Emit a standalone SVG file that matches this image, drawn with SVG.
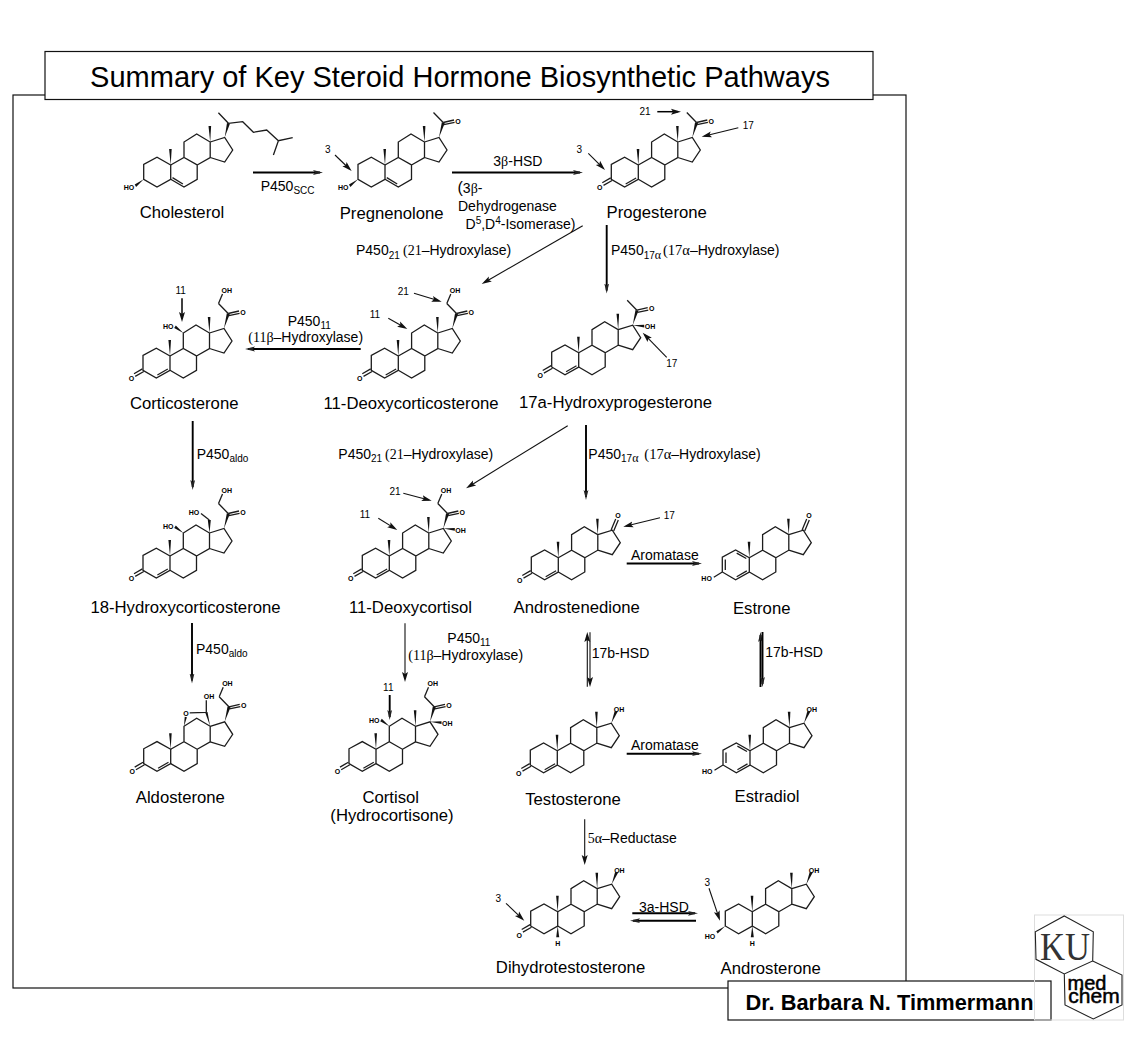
<svg xmlns="http://www.w3.org/2000/svg" xmlns:xlink="http://www.w3.org/1999/xlink" width="1148" height="1044" viewBox="0 0 1148 1044">
<style>
text{font-family:"Liberation Sans",Arial,sans-serif;fill:#000}
.b{fill:none;stroke:#1c1c1c;stroke-width:1.3}
.w{fill:#111;stroke:none}
.at{font-size:7px;font-weight:700;text-anchor:middle;dominant-baseline:central}
.nm{font-size:16.7px;text-anchor:middle;transform:translateY(.8px)}
.lb{font-size:14px;transform:translateY(.7px)}
.num{font-size:10px;text-anchor:middle;dominant-baseline:central}
.g{font-family:"Liberation Serif","Times New Roman",serif}
.s{font-size:10px}
.frame{fill:#fff;stroke:#111;stroke-width:1.2}
.c3{fill:none;stroke:#000;stroke-width:1.9;marker-end:url(#ahk)}
.c2{fill:none;stroke:#000;stroke-width:1.5;marker-end:url(#ah)}
.c1{fill:none;stroke:#111;stroke-width:1.1;marker-end:url(#ah)}
</style>
<defs>
<marker id="ah" markerUnits="userSpaceOnUse" markerWidth="12" markerHeight="8" viewBox="0 -4 12 8" refX="7" refY="0" orient="auto"><path d="M0,-3L10,0L0,3L2,0Z" fill="#111"/></marker>
<marker id="ahk" markerUnits="userSpaceOnUse" markerWidth="12" markerHeight="8" viewBox="0 -4 12 8" refX="7" refY="0" orient="auto"><path d="M0,-2.4L10,0L0,2.4L2,0Z" fill="#222"/></marker>
<g id="core"><path class="b" d="M0,0L13.3,-7.5L26.5,0V14.3L13.3,22L0,14.3M13.3,-7.5V-23L26,-31L39.5,-23V-7.5L26.5,0M39.5,-23L54,-27.5L62,-15L54,-3L39.5,-7.5"/><polygon class="w" points="0,0 -1.6,-16 1,-16"/></g>
<polygon id="me18" class="w" points="39.5,-23 37.8,-39 40.4,-39"/>
<path id="ringA" class="b" d="M0,0L-13.7,-7.7L-27,-.5V14.3L-13.7,22L0,14.3Z"/>
<path id="d45" class="b" d="M-12.6,19L-2.2,13"/>
<path id="d56" class="b" d="M1.8,12.6L12.2,19"/>
<path id="co3" class="b" d="M-27.6,12.9L-36,17.8M-26.2,15.5L-34.8,20.4"/>
<polygon id="oh3b" class="w" points="-27,14.3 -36,19.5 -34.6,21.9"/>
<polygon id="oh11b" class="w" points="13.3,-23 5.8,-30.5 4.2,-28"/>
<polygon id="oh17a" class="w" points="54,-27.5 65.5,-28 65.5,-25.2"/>
<polygon id="oh17b" class="w" points="54,-27.5 57.4,-39.8 60.2,-38.8"/>
<g id="acetyl"><polygon class="w" points="54,-27.5 56.8,-42.8 59.8,-42"/><path class="b" d="M48.5,-52.5L58.2,-42.5M58.2,-42.5L69,-45M58.8,-40.4L69.6,-42.6"/></g>
<path id="ohbond" class="b" d="M48.5,-52.5L52.5,-62"/>
<path id="keto17" class="b" d="M52.8,-27.8L57.4,-38.8M55.4,-26.8L60,-37.8"/>
<g id="arom"><path class="b" d="M0,0L-13.7,-7.7L-27,-.5V14.3L-13.7,22L0,14.3ZM-12.6,-4.6L-3,.8M-24,1.8V12.2M-12.6,19L-2.5,13.2M-27,14.3L-35.5,19.5"/></g>
<g id="hc5"><polygon class="w" points="0,14.3 -1.5,25.5 1.5,25.5"/></g>
</defs>

<g id="frames">
<rect class="frame" x="13" y="95" width="893" height="893" style="fill:none"/>
<rect class="frame" x="45" y="51.500" width="828" height="48"/>
<text x="460" y="87" font-size="29" text-anchor="middle">Summary of Key Steroid Hormone Biosynthetic Pathways</text>
<rect class="frame" x="728" y="981" width="323" height="39"/>
<text x="889.500" y="1010" font-size="21.800" font-weight="700" text-anchor="middle">Dr. Barbara N. Timmermann</text>
</g>

<g id="logo">
<rect x="1034.500" y="915" width="89" height="105" fill="none" stroke="#ddd" stroke-width="1"/>
<path d="M1064.300,916L1093.300,931.700L1092.700,961L1064.300,974L1036,959.300L1035.300,931.700ZM1092.700,961L1122,975L1122,1005L1093.300,1019L1065,1005L1064.300,974" fill="none" stroke="#222" stroke-width="1.100"/>
<text x="1040" y="960" font-size="40" textLength="50" lengthAdjust="spacingAndGlyphs" style="font-family:'Liberation Serif',serif;fill:#333">KU</text>
<text x="1087" y="990" font-size="20" text-anchor="middle" stroke="#000" stroke-width=".5">med</text>
<text x="1094" y="1003" font-size="21" text-anchor="middle" stroke="#000" stroke-width=".5">chem</text>
</g>

<g id="connectors">
<path class="c3" d="M253,172.500H320"/>
<path class="c3" d="M452,172.500H580"/>
<path class="c1" d="M582.700,225.700L484.300,282.500"/>
<path class="c3" d="M606.700,225V290.500"/>
<path class="c3" d="M360.700,349H248"/>
<path class="c1" d="M567.700,425.700L468.600,486.700"/>
<path class="c3" d="M586,425V497"/>
<path class="c3" d="M192.700,421V487"/>
<path class="c3" d="M192,623V680.500"/>
<path class="c1" d="M405,623.300V679"/>
<path class="c3" d="M626.700,563.500H699"/>
<path class="c1" d="M587.300,686.700V635"/>
<path class="c1" d="M590,632.300V684"/>
<path class="c3" d="M760.500,687V635"/>
<path class="c3" d="M762.500,632V684"/>
<path class="c3" d="M626.700,753.700H699"/>
<path class="c1" d="M584.700,819.300V862"/>
<path class="c3" d="M632.300,913.300H695"/>
<path class="c3" d="M696,920.700H633"/>
<path class="c1" d="M335,155L349.500,169"/>
<path class="c2" d="M657.300,111.700H678"/>
<path class="c1" d="M738.300,127.700L704.600,136"/>
<path class="c1" d="M588.300,153.300L602.900,167.900"/>
<path class="c1" d="M414,293.300L438.800,300.800"/>
<path class="c1" d="M388.300,318.300L404.700,327.500"/>
<path class="c2" d="M182,298.300V319"/>
<path class="c1" d="M666.700,357.300L644.800,334.900"/>
<path class="c1" d="M403.300,493.300L428.800,500"/>
<path class="c1" d="M378.300,518.300L394.700,528.400"/>
<path class="c1" d="M660,517.700L626.200,526"/>
<path class="c3" d="M389.700,695V717"/>
<path class="c1" d="M506,903.300L522.100,918.600"/>
<path class="c1" d="M709,888.300L719,917.900"/>
</g>

<g id="labels">
<text class="lb" x="260.700" y="190">P450<tspan class="s" dy="3.500">SCC</tspan></text>
<text class="lb" x="493.300" y="165">3<tspan class="g">β</tspan>-HSD</text>
<text class="lb" x="457.500" y="192"><tspan font-size="16">(</tspan>3<tspan class="g">β</tspan>-</text>
<text class="lb" x="458" y="210">Dehydrogenase</text>
<text class="lb" x="465.500" y="228">D<tspan class="s" dy="-5">5</tspan><tspan dy="5">,D</tspan><tspan class="s" dy="-5">4</tspan><tspan dy="5">-Isomerase)</tspan></text>
<text class="lb" x="356" y="254.500">P450<tspan class="s" dy="3.500">21</tspan><tspan class="g" x="403" dy="-3.500">(21</tspan>–Hydroxylase)</text>
<text class="lb" x="611" y="254.500">P450<tspan class="s" dy="3.500">17<tspan class="g" font-size="12">α</tspan></tspan><tspan class="g" font-size="14.500" x="663" dy="-3.500">(17α</tspan>–Hydroxylase)</text>
<text class="lb" x="287.700" y="325">P450<tspan class="s" dy="3.500">11</tspan></text>
<text class="lb" x="248.300" y="341"><tspan class="g">(11β</tspan>–Hydroxylase)</text>
<text class="lb" x="196.700" y="458.300">P450<tspan class="s" dy="3.500">aldo</tspan></text>
<text class="lb" x="338.300" y="458.300">P450<tspan class="s" dy="3.500">21</tspan><tspan class="g" x="385" dy="-3.500">(21</tspan>–Hydroxylase)</text>
<text class="lb" x="588.300" y="458.300">P450<tspan class="s" dy="3.500">17<tspan class="g" font-size="12">α</tspan></tspan><tspan class="g" font-size="14.500" x="644.300" dy="-3.500">(17α</tspan>–Hydroxylase)</text>
<text class="lb" x="196" y="653">P450<tspan class="s" dy="3.500">aldo</tspan></text>
<text class="lb" x="447.300" y="642.300">P450<tspan class="s" dy="3.500">11</tspan></text>
<text class="lb" x="408.300" y="659"><tspan class="g">(11β</tspan>–Hydroxylase)</text>
<text class="lb" x="631" y="559.300">Aromatase</text>
<text class="lb" x="631" y="749.300">Aromatase</text>
<text class="lb" x="591.700" y="657.700">17b-HSD</text>
<text class="lb" x="765.300" y="656.700">17b-HSD</text>
<text class="lb" x="587.700" y="842.300"><tspan class="g">5α</tspan>–Reductase</text>
<text class="lb" x="639" y="911.700">3a-HSD</text>
<text class="num" x="327.700" y="149.300">3</text>
<text class="num" x="645" y="111.700">21</text>
<text class="num" x="748.300" y="125.700">17</text>
<text class="num" x="579.300" y="149.300">3</text>
<text class="num" x="403.300" y="291.700">21</text>
<text class="num" x="375" y="314.300">11</text>
<text class="num" x="180.700" y="290.700">11</text>
<text class="num" x="671.700" y="363.300">17</text>
<text class="num" x="395" y="491.700">21</text>
<text class="num" x="365" y="514.300">11</text>
<text class="num" x="669.300" y="515">17</text>
<text class="num" x="388.300" y="687.300">11</text>
<text class="num" x="498.300" y="898.300">3</text>
<text class="num" x="707.300" y="882.300">3</text>
</g>

<g id="cholesterol"><g transform="translate(170.700,165)">
<use href="#core"/><use href="#me18"/><use href="#ringA"/><use href="#d56"/><use href="#oh3b"/>
<polygon class="w" points="54,-27.500 56.300,-42 59.200,-41.300"/>
<path class="b" d="M47.700,-52.300L57.700,-41.700L72,-43.300L82.700,-32.700L96,-35L107.700,-24.300L122,-27.300M107.700,-24.300L102.700,-10"/>
<text class="at" x="-41.700" y="22.700">HO</text>
</g><text class="nm" x="182" y="217.300">Cholesterol</text></g>

<g id="pregnenolone"><g transform="translate(385,165)">
<use href="#core"/><use href="#me18"/><use href="#ringA"/><use href="#d56"/><use href="#oh3b"/><use href="#acetyl"/>
<text class="at" x="-41.700" y="22.700">HO</text><text class="at" x="73" y="-44">O</text>
</g><text class="nm" x="391.700" y="218">Pregnenolone</text></g>

<g id="progesterone"><g transform="translate(638.300,165)">
<use href="#core"/><use href="#me18"/><use href="#ringA"/><use href="#d45"/><use href="#co3"/><use href="#acetyl"/>
<text class="at" x="-38.500" y="22.500">O</text><text class="at" x="73" y="-44">O</text>
</g><text class="nm" x="656.700" y="217.300">Progesterone</text></g>

<g id="deoxycorticosterone"><g transform="translate(398.300,356)">
<use href="#core"/><use href="#me18"/><use href="#ringA"/><use href="#d45"/><use href="#co3"/><use href="#acetyl"/><use href="#ohbond"/>
<text class="at" x="-38.500" y="22.500">O</text><text class="at" x="73" y="-44">O</text><text class="at" x="56.700" y="-66">OH</text>
</g><text class="nm" x="411" y="408.300">11-Deoxycorticosterone</text></g>

<g id="corticosterone"><g transform="translate(170,356)">
<use href="#core"/><use href="#me18"/><use href="#ringA"/><use href="#d45"/><use href="#co3"/><use href="#acetyl"/><use href="#ohbond"/><use href="#oh11b"/>
<text class="at" x="-38.500" y="22.500">O</text><text class="at" x="73" y="-44">O</text><text class="at" x="56.700" y="-66">OH</text><text class="at" x="-1.700" y="-29.300">HO</text>
</g><text class="nm" x="184.200" y="408.300">Corticosterone</text></g>

<g id="hydroxyprogesterone"><g transform="translate(578.700,352.700)">
<use href="#core"/><use href="#me18"/><use href="#ringA"/><use href="#d45"/><use href="#co3"/><use href="#acetyl"/><use href="#oh17a"/>
<text class="at" x="-38.500" y="22.500">O</text><text class="at" x="73" y="-44">O</text><text class="at" x="71.300" y="-26">OH</text>
</g><text class="nm" x="615.500" y="407.300">17a-Hydroxyprogesterone</text></g>

<g id="hydroxycorticosterone"><g transform="translate(170,556)">
<use href="#core"/><use href="#ringA"/><use href="#d45"/><use href="#co3"/><use href="#acetyl"/><use href="#ohbond"/><use href="#oh11b"/>
<polygon class="w" points="39.500,-23 37.800,-36 40.800,-36"/><path class="b" d="M39.300,-36L31,-42.500"/>
<text class="at" x="-38.500" y="22.500">O</text><text class="at" x="73" y="-44">O</text><text class="at" x="56.700" y="-66">OH</text><text class="at" x="-1.700" y="-29.300">HO</text><text class="at" x="24" y="-43.300">HO</text>
</g><text class="nm" x="185.500" y="612.300">18-Hydroxycorticosterone</text></g>

<g id="deoxycortisol"><g transform="translate(389.300,556)">
<use href="#core"/><use href="#me18"/><use href="#ringA"/><use href="#d45"/><use href="#co3"/><use href="#acetyl"/><use href="#ohbond"/><use href="#oh17a"/>
<text class="at" x="-38.500" y="22.500">O</text><text class="at" x="73" y="-44">O</text><text class="at" x="56.700" y="-66">OH</text><text class="at" x="71.300" y="-26">OH</text>
</g><text class="nm" x="410.500" y="612.300">11-Deoxycortisol</text></g>

<g id="androstenedione"><g transform="translate(558.300,557.700)">
<use href="#core"/><use href="#me18"/><use href="#ringA"/><use href="#d45"/><use href="#co3"/><use href="#keto17"/>
<text class="at" x="-38.500" y="22.500">O</text><text class="at" x="59.800" y="-42">O</text>
</g><text class="nm" x="576.700" y="612.200">Androstenedione</text></g>

<g id="estrone"><g transform="translate(749.300,557.700)">
<use href="#core"/><use href="#me18"/><use href="#arom"/><use href="#keto17"/>
<text class="at" x="-42.700" y="21.300">HO</text><text class="at" x="59.800" y="-42">O</text>
</g><text class="nm" x="761.700" y="613.200">Estrone</text></g>

<g id="aldosterone"><g transform="translate(170.700,749.300)">
<use href="#core"/><use href="#ringA"/><use href="#d45"/><use href="#co3"/><use href="#acetyl"/><use href="#ohbond"/>
<polygon class="w" points="39.500,-23 34.400,-37 36.800,-37.300"/><polygon class="w" points="13.300,-23 14,-32.500 16.200,-32"/>
<path class="b" d="M19,-36.500L35.300,-37M35.600,-37V-49"/>
<text class="at" x="15.300" y="-36">O</text><text class="at" x="38.300" y="-53.300">OH</text><text class="at" x="-38.500" y="22.500">O</text><text class="at" x="73" y="-44">O</text><text class="at" x="56.700" y="-66">OH</text>
</g><text class="nm" x="180.300" y="802.300">Aldosterone</text></g>

<g id="cortisol"><g transform="translate(376,749.300)">
<use href="#core"/><use href="#me18"/><use href="#ringA"/><use href="#d45"/><use href="#co3"/><use href="#acetyl"/><use href="#ohbond"/><use href="#oh11b"/><use href="#oh17a"/>
<text class="at" x="-38.500" y="22.500">O</text><text class="at" x="73" y="-44">O</text><text class="at" x="56.700" y="-66">OH</text><text class="at" x="-1.700" y="-29.300">HO</text><text class="at" x="71.300" y="-26">OH</text>
</g><text class="nm" x="390.700" y="802.300">Cortisol</text><text class="nm" x="392" y="820">(Hydrocortisone)</text></g>

<g id="testosterone"><g transform="translate(557.300,750.700)">
<use href="#core"/><use href="#me18"/><use href="#ringA"/><use href="#d45"/><use href="#co3"/><use href="#oh17b"/>
<text class="at" x="-38.500" y="22.500">O</text><text class="at" x="61.700" y="-41.700">OH</text>
</g><text class="nm" x="573" y="804.300">Testosterone</text></g>

<g id="estradiol"><g transform="translate(750,750.700)">
<use href="#core"/><use href="#me18"/><use href="#arom"/><use href="#oh17b"/>
<text class="at" x="-42.700" y="21.300">HO</text><text class="at" x="61.700" y="-41.700">OH</text>
</g><text class="nm" x="767" y="801.700">Estradiol</text></g>

<g id="dihydrotestosterone"><g transform="translate(557.700,911.700)">
<use href="#core"/><use href="#me18"/><use href="#ringA"/><use href="#co3"/><use href="#oh17b"/><use href="#hc5"/>
<text class="at" x="-38.500" y="23.500">O</text><text class="at" x="61.700" y="-41.700">OH</text><text class="at" x="0" y="31.500">H</text>
</g><text class="nm" x="570.500" y="972.700">Dihydrotestosterone</text></g>

<g id="androsterone"><g transform="translate(752.300,911.700)">
<use href="#core"/><use href="#me18"/><use href="#ringA"/><use href="#oh3b"/><use href="#oh17b"/><use href="#hc5"/>
<text class="at" x="-42.300" y="24.500">HO</text><text class="at" x="61.700" y="-41.700">OH</text><text class="at" x="0" y="31.500">H</text>
</g><text class="nm" x="770.700" y="973.300">Androsterone</text></g>
</svg>
